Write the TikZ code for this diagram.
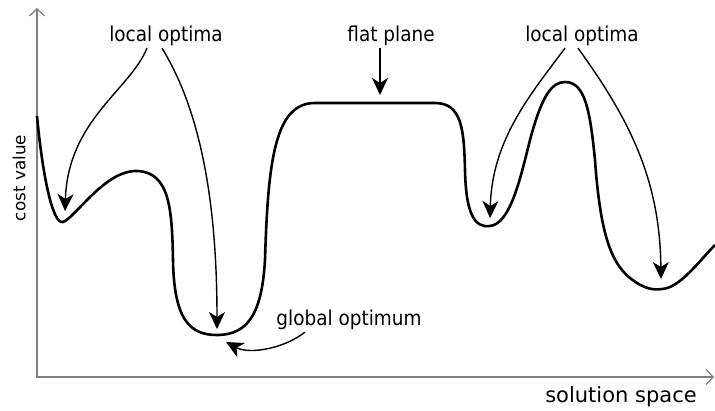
\documentclass[tikz,border=0pt]{standalone}
\usepackage{fontspec}
\setmainfont{DejaVu Sans}
\newfontfamily\tightfont{DejaVu Sans}[FakeStretch=0.9]
\usetikzlibrary{arrows.meta}
\definecolor{axisgray}{gray}{0.5}

\begin{document}
\begin{tikzpicture}[x=1pt,y=-1pt,
  axis/.style={draw=axisgray,line width=1.3pt,
    {Straight Barb[length=7pt,width=15pt]}-{Straight Barb[length=7pt,width=15pt]}},
  costline/.style={line width=2.6pt,line join=round},
  pointer/.style={line width=1.4pt,-{Stealth[length=17pt,width=16pt,inset=5pt]}},
  lbl/.style={font=\tightfont\fontsize{20.5}{22}\selectfont,inner sep=2pt}]
\useasboundingbox (0,0) rectangle (715,410);

% axes
\coordinate (ytop) at (37,8);
\coordinate (origin) at (37,377);
\coordinate (xend) at (714,377);
\draw[axis] (ytop) -- (origin) -- (xend);
\node[rotate=90,font=\fontsize{16.8}{18}\selectfont] (ylab) at (19,178) {cost value};
\node[font=\fontsize{21}{23}\selectfont] (xlab) at (621,397) {solution space};

% cost landscape
\draw[costline] (37,116) .. controls (42,170) and (52,225) .. (63,222)
  .. controls (75,218) and (105,170) .. (137,171)
  .. controls (170,172) and (172,210) .. (173,260)
  .. controls (174,320) and (190,335) .. (217,335)
  .. controls (250,335) and (262,310) .. (265,260)
  .. controls (268,160) and (275,103) .. (315,103)
  -- (435,103)
  .. controls (462,103) and (464,130) .. (465,170)
  .. controls (466,215) and (475,228) .. (490,226)
  .. controls (510,224) and (520,180) .. (530,140)
  .. controls (542,95) and (552,82) .. (565,82)
  .. controls (585,82) and (590,110) .. (595,160)
  .. controls (600,230) and (610,262) .. (630,278)
  .. controls (645,290) and (655,290) .. (662,289)
  .. controls (680,288) and (700,260) .. (715,245);

% where the pointers land
\coordinate (minleft) at (65,211);
\coordinate (minglobal) at (217,329);
\coordinate (plane) at (380,95);
\coordinate (minmid) at (490,218);
\coordinate (minright) at (661,279);
\coordinate (globalside) at (226,342);

\node[lbl] (optleft) at (166,36) {local optima};
\node[lbl] (flat) at (391,36) {flat plane};
\node[lbl] (optright) at (582,36) {local optima};
\node[lbl] (global) at (349,320) {global optimum};

\draw[pointer] ([xshift=-19pt]optleft.south) .. controls (130,90) and (68,120) .. (minleft);
\draw[pointer] ([xshift=-4pt]optleft.south) .. controls (200,110) and (217,200) .. (minglobal);
\draw[pointer] ([xshift=-11pt]flat.south) -- (plane);
\draw[pointer] ([xshift=-17pt]optright.south) .. controls (530,95) and (492,140) .. (minmid);
\draw[pointer] ([xshift=-4pt]optright.south) .. controls (630,120) and (660,180) .. (minright);
\draw[pointer] ([xshift=-44pt]global.south) .. controls (285,348) and (250,355) .. (globalside);
\end{tikzpicture}
\end{document}
